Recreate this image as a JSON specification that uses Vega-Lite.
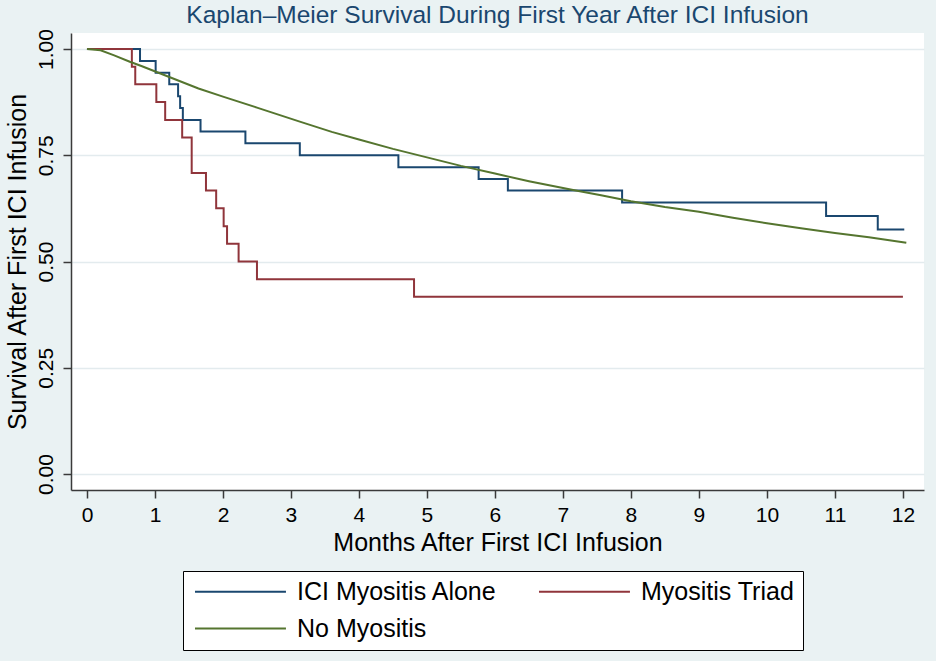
{
  "$schema": "https://vega.github.io/schema/vega-lite/v6.json",
  "width": 853,
  "height": 457,
  "autosize": {"type": "none"},
  "padding": {"left": 71, "top": 33, "right": 12, "bottom": 171},
  "background": "#eaf2f3",
  "title": {
    "text": "Kaplan–Meier Survival During First Year After ICI Infusion",
    "font": "Liberation Sans",
    "fontSize": 24.5,
    "fontWeight": "normal",
    "color": "#1a476f",
    "anchor": "middle",
    "offset": 0
  },
  "config": {
    "view": {"stroke": null, "fill": "white"},
    "font": "Liberation Sans",
    "axis": {
      "labelFont": "Liberation Sans",
      "titleFont": "Liberation Sans",
      "labelColor": "#000000",
      "titleColor": "#000000",
      "domainColor": "#3a3a3a",
      "tickColor": "#3a3a3a",
      "domainWidth": 1.5,
      "tickWidth": 1.5,
      "tickSize": 8,
      "labelFontSize": 21,
      "titleFontSize": 25,
      "titleFontWeight": "normal"
    },
    "legend": {
      "labelFont": "Liberation Sans",
      "labelFontSize": 25,
      "labelColor": "#000000"
    }
  },
  "datasets": {
    "steps": [
      {"group": "ICI Myositis Alone", "months": 0, "surv": 1.0},
      {"group": "ICI Myositis Alone", "months": 0.78, "surv": 0.972},
      {"group": "ICI Myositis Alone", "months": 1.01, "surv": 0.944},
      {"group": "ICI Myositis Alone", "months": 1.21, "surv": 0.917},
      {"group": "ICI Myositis Alone", "months": 1.34, "surv": 0.889},
      {"group": "ICI Myositis Alone", "months": 1.37, "surv": 0.861},
      {"group": "ICI Myositis Alone", "months": 1.41, "surv": 0.833},
      {"group": "ICI Myositis Alone", "months": 1.67, "surv": 0.806},
      {"group": "ICI Myositis Alone", "months": 2.33, "surv": 0.778},
      {"group": "ICI Myositis Alone", "months": 3.13, "surv": 0.75},
      {"group": "ICI Myositis Alone", "months": 4.58, "surv": 0.722},
      {"group": "ICI Myositis Alone", "months": 5.76, "surv": 0.694},
      {"group": "ICI Myositis Alone", "months": 6.19, "surv": 0.667},
      {"group": "ICI Myositis Alone", "months": 7.87, "surv": 0.639},
      {"group": "ICI Myositis Alone", "months": 10.87, "surv": 0.607},
      {"group": "ICI Myositis Alone", "months": 11.63, "surv": 0.575},
      {"group": "ICI Myositis Alone", "months": 12.02, "surv": 0.575},
      {"group": "Myositis Triad", "months": 0, "surv": 1.0},
      {"group": "Myositis Triad", "months": 0.66, "surv": 0.958},
      {"group": "Myositis Triad", "months": 0.71, "surv": 0.917},
      {"group": "Myositis Triad", "months": 1.02, "surv": 0.875},
      {"group": "Myositis Triad", "months": 1.15, "surv": 0.833},
      {"group": "Myositis Triad", "months": 1.4, "surv": 0.792},
      {"group": "Myositis Triad", "months": 1.54, "surv": 0.708},
      {"group": "Myositis Triad", "months": 1.75, "surv": 0.667},
      {"group": "Myositis Triad", "months": 1.9, "surv": 0.625},
      {"group": "Myositis Triad", "months": 2.01, "surv": 0.583},
      {"group": "Myositis Triad", "months": 2.06, "surv": 0.542},
      {"group": "Myositis Triad", "months": 2.23, "surv": 0.5},
      {"group": "Myositis Triad", "months": 2.5, "surv": 0.458},
      {"group": "Myositis Triad", "months": 4.81, "surv": 0.417},
      {"group": "Myositis Triad", "months": 12.0, "surv": 0.417}
    ],
    "smooth": [
      {"group": "No Myositis", "months": 0, "surv": 1.0},
      {"group": "No Myositis", "months": 0.2, "surv": 0.997},
      {"group": "No Myositis", "months": 0.4, "surv": 0.985},
      {"group": "No Myositis", "months": 0.63, "surv": 0.97},
      {"group": "No Myositis", "months": 0.8, "surv": 0.96},
      {"group": "No Myositis", "months": 1.07, "surv": 0.943},
      {"group": "No Myositis", "months": 1.21, "surv": 0.934},
      {"group": "No Myositis", "months": 1.64, "surv": 0.907},
      {"group": "No Myositis", "months": 2.0, "surv": 0.888},
      {"group": "No Myositis", "months": 2.5, "surv": 0.862},
      {"group": "No Myositis", "months": 3.13, "surv": 0.829},
      {"group": "No Myositis", "months": 3.6, "surv": 0.805},
      {"group": "No Myositis", "months": 4.0, "surv": 0.787},
      {"group": "No Myositis", "months": 4.5, "surv": 0.765},
      {"group": "No Myositis", "months": 5.0, "surv": 0.745},
      {"group": "No Myositis", "months": 5.5, "surv": 0.725},
      {"group": "No Myositis", "months": 6.0, "surv": 0.707},
      {"group": "No Myositis", "months": 6.5, "surv": 0.689},
      {"group": "No Myositis", "months": 7.15, "surv": 0.668},
      {"group": "No Myositis", "months": 7.56, "surv": 0.656},
      {"group": "No Myositis", "months": 8.0, "surv": 0.642},
      {"group": "No Myositis", "months": 8.5, "surv": 0.628},
      {"group": "No Myositis", "months": 9.0, "surv": 0.617},
      {"group": "No Myositis", "months": 9.5, "surv": 0.603},
      {"group": "No Myositis", "months": 10.0, "surv": 0.59},
      {"group": "No Myositis", "months": 10.5, "surv": 0.578},
      {"group": "No Myositis", "months": 11.0, "surv": 0.567},
      {"group": "No Myositis", "months": 11.5, "surv": 0.557},
      {"group": "No Myositis", "months": 12.05, "surv": 0.544}
    ]
  },
  "layer": [
    {
      "data": {"name": "steps"},
      "mark": {"type": "line", "interpolate": "step-after", "strokeWidth": 2},
      "encoding": {
        "x": {
          "field": "months",
          "type": "quantitative",
          "scale": {"domain": [-0.235, 12.31], "nice": false, "zero": false},
          "axis": {
            "values": [0, 1, 2, 3, 4, 5, 6, 7, 8, 9, 10, 11, 12],
            "format": "d",
            "grid": false,
            "title": "Months After First ICI Infusion",
            "labelPadding": 6,
            "titlePadding": 5
          }
        },
        "y": {
          "field": "surv",
          "type": "quantitative",
          "scale": {"domain": [-0.0376, 1.0376], "nice": false, "zero": false},
          "axis": {
            "values": [0, 0.25, 0.5, 0.75, 1],
            "format": ".2f",
            "labelAngle": 270,
            "grid": true,
            "gridColor": "#e3ebee",
            "gridWidth": 1.5,
            "title": "Survival After First ICI Infusion",
            "labelPadding": 7,
            "titlePadding": 5
          }
        },
        "color": {
          "field": "group",
          "type": "nominal",
          "scale": {
            "domain": ["ICI Myositis Alone", "Myositis Triad", "No Myositis"],
            "range": ["#1a476f", "#90353b", "#55752f"]
          },
          "legend": {
            "title": null,
            "orient": "none",
            "legendX": 112,
            "legendY": 538,
            "direction": "horizontal",
            "columns": 2,
            "columnPadding": 36,
            "rowPadding": 11,
            "padding": 8,
            "strokeColor": "#000000",
            "fillColor": "#ffffff",
            "symbolType": "M-0.74,0H7.17",
            "symbolSize": 529,
            "symbolStrokeWidth": 2,
            "labelOffset": 81,
            "labelLimit": 400
          }
        }
      }
    },
    {
      "data": {"name": "smooth"},
      "mark": {"type": "line", "strokeWidth": 2},
      "encoding": {
        "x": {"field": "months", "type": "quantitative"},
        "y": {"field": "surv", "type": "quantitative"},
        "color": {"field": "group", "type": "nominal"}
      }
    }
  ]
}
